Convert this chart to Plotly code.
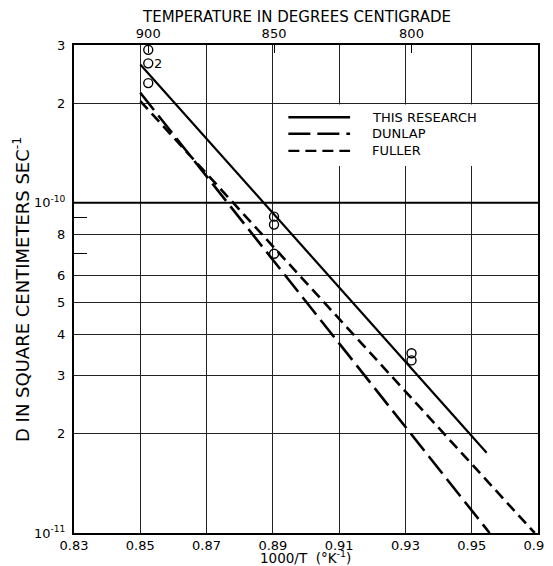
import math
import plotly.graph_objects as go

# ---------------- data ----------------
temps_c = [900, 850, 800]                       # top-axis temperatures (deg C)
x_ticks = [0.83, 0.85, 0.87, 0.89, 0.91, 0.93, 0.95, 0.97]
x_ticktext = ["0.83", "0.85", "0.87", "0.89", "0.91", "0.93", "0.95", "0.97"]
y_ticks = [1e-11, 2e-11, 3e-11, 4e-11, 5e-11, 6e-11, 8e-11, 1e-10, 2e-10, 3e-10]
y_ticktext = ["10<sup>-11</sup>", "2", "3", "4", "5", "6", "8", "10<sup>-10</sup>", "2", "3"]
y_minor = [7e-11, 9e-11]

# measured diffusion coefficients (this research)
pts_temp = [900, 900, 900, 850, 850, 850, 800, 800]
pts_D = [2.9e-10, 2.64e-10, 2.3e-10, 9.07e-11, 8.58e-11, 7.0e-11, 3.5e-11, 3.33e-11]

# fitted lines (1000/T, D)
this_x = [0.8500, 0.9545]
this_D = [2.62e-10, 1.75e-11]
dunlap_x = [0.8500, 0.9554]
dunlap_D = [2.15e-10, 1.0e-11]
fuller_x = [0.8500, 0.969]
fuller_D = [2.03e-10, 1.0e-11]

legend_names = ["THIS RESEARCH", "DUNLAP", "FULLER"]
legend_dashes = ["solid", "22px,7px", "11px,6px"]

# ---------------- figure ----------------
FONT = "DejaVu Sans"
inv_T = [1000.0 / (t + 273.15) for t in temps_c]
pts_x = [1000.0 / (t + 273.15) for t in pts_temp]

fig = go.Figure()

fig.add_trace(go.Scatter(x=this_x, y=this_D, mode="lines",
                         line=dict(color="black", width=2.2), showlegend=False))
fig.add_trace(go.Scatter(x=dunlap_x, y=dunlap_D, mode="lines",
                         line=dict(color="black", width=2.6, dash=legend_dashes[1]),
                         showlegend=False))
fig.add_trace(go.Scatter(x=fuller_x, y=fuller_D, mode="lines",
                         line=dict(color="black", width=2.6, dash=legend_dashes[2]),
                         showlegend=False))
fig.add_trace(go.Scatter(x=pts_x, y=pts_D, mode="markers",
                         marker=dict(symbol="circle-open", size=9, color="black",
                                     line=dict(width=1.4, color="black")),
                         showlegend=False))
# heavier decade line at 1e-10
fig.add_trace(go.Scatter(x=[x_ticks[0], x_ticks[-1]], y=[1e-10, 1e-10], mode="lines",
                         line=dict(color="black", width=2), showlegend=False,
                         hoverinfo="skip"))
# invisible trace to hold the top axis
fig.add_trace(go.Scatter(x=inv_T, y=[pts_D[0]] * len(inv_T), xaxis="x2", mode="markers",
                         marker=dict(opacity=0), showlegend=False, hoverinfo="skip"))

# "2" label beside the doubled point at 900 C
fig.add_annotation(x=pts_x[1], y=math.log10(pts_D[1]), text="2", showarrow=False,
                   xshift=10, font=dict(family=FONT, size=13, color="black"))

# manual legend (paper coordinates)
fig.add_shape(type="rect", xref="paper", yref="paper", x0=0.45, x1=0.965, y0=0.752, y1=0.878,
              fillcolor="white", line=dict(width=0), layer="above")
rows_y = [0.852, 0.818, 0.783]
for name, dash, ry in zip(legend_names, legend_dashes, rows_y):
    fig.add_shape(type="line", xref="paper", yref="paper", x0=0.462, x1=0.595, y0=ry, y1=ry,
                  line=dict(color="black", width=2.4, dash=dash), layer="above")
    fig.add_annotation(xref="paper", yref="paper", x=0.637, y=ry, text=name, showarrow=False,
                       xanchor="left", yanchor="middle",
                       font=dict(family=FONT, size=13, color="black"))

# axis titles
fig.add_annotation(xref="paper", yref="paper", x=0.498, y=-0.05, text="1000/T  (°K<sup>-1</sup>)",
                   showarrow=False, xanchor="center", yanchor="middle",
                   font=dict(family=FONT, size=13.5, color="black"))
fig.add_annotation(xref="paper", yref="paper", x=0.48, y=1.0 + 28.0 / 488,
                   text="TEMPERATURE IN DEGREES CENTIGRADE",
                   showarrow=False, xanchor="center", yanchor="middle",
                   font=dict(family=FONT, size=15, color="black"))
fig.add_annotation(xref="paper", yref="paper", x=-53.0 / 464, y=0.498,
                   text="D IN SQUARE CENTIMETERS SEC<sup>-1</sup>", textangle=-90,
                   showarrow=False, xanchor="center", yanchor="middle",
                   font=dict(family=FONT, size=18, color="black"))

axis_common = dict(showline=True, linecolor="black", linewidth=2, mirror=True,
                   gridcolor="#222222", gridwidth=1, zeroline=False, automargin=False,
                   tickfont=dict(family=FONT, size=13, color="black"))

fig.update_layout(
    width=553, height=558,
    margin=dict(l=66, r=23, t=37, b=33, autoexpand=False),
    paper_bgcolor="white", plot_bgcolor="white",
    font=dict(family=FONT, color="black"),
    xaxis=dict(range=[x_ticks[0], x_ticks[-1]], tickvals=x_ticks, ticktext=x_ticktext,
               showgrid=True, ticks="", ticklen=0, ticklabelstandoff=-1, **axis_common),
    xaxis2=dict(range=[x_ticks[0], x_ticks[-1]], overlaying="x", side="top",
                tickvals=inv_T, ticktext=[str(t) for t in temps_c],
                ticks="inside", ticklen=8, tickcolor="black", tickwidth=1.2,
                ticklabelstandoff=3, automargin=False,
                showgrid=False, showline=False, zeroline=False,
                tickfont=dict(family=FONT, size=13, color="black")),
    yaxis=dict(type="log", range=[math.log10(y_ticks[0]), math.log10(y_ticks[-1])],
               tickvals=y_ticks, ticktext=y_ticktext, showgrid=True, ticks="",
               ticklabelstandoff=4,
               minor=dict(tickvals=y_minor, ticks="inside", ticklen=13, tickcolor="black",
                          tickwidth=1.2, showgrid=False),
               **axis_common),
)

fig.write_html("out.html")
